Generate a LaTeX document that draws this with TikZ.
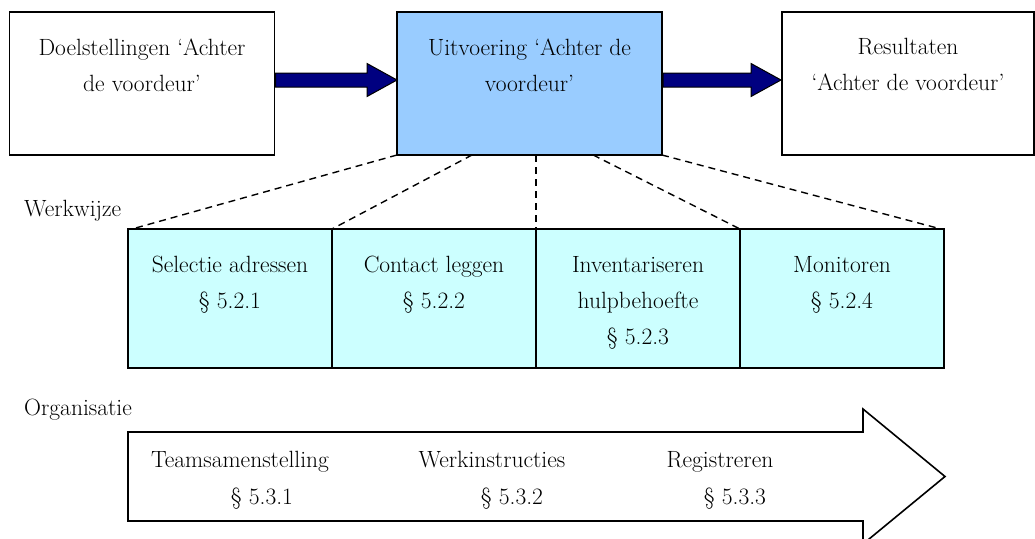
\documentclass[tikz,border=0pt]{standalone}
\usepackage{fontspec}
\usetikzlibrary{calc}
\definecolor{ublue}{HTML}{99CCFF}
\definecolor{lcyan}{HTML}{CCFFFF}
\definecolor{navyc}{HTML}{000080}
\newcommand{\dfont}{\fontsize{23.5}{36}\selectfont}
\newcommand{\lns}[1]{\begin{tabular}[t]{@{}c@{}}#1\end{tabular}}
\begin{document}
\begin{tikzpicture}[x=1pt,y=-1pt,
  box/.style={draw, line width=1.6pt, inner sep=0pt, outer sep=0pt, anchor=north west},
  topbox/.style={box, minimum width=265pt, minimum height=143pt},
  subbox/.style={box, fill=lcyan, minimum width=204pt, minimum height=139pt},
  txt/.style={font=\dfont, inner sep=0pt, anchor=base},
  lbl/.style={font=\dfont, inner sep=0pt, anchor=base west},
  link/.style={dash pattern=on 7pt off 5pt, line width=1.4pt},
  blockarrow/.style={draw=black, fill=navyc, line width=1pt, line join=miter},
  bigarrow/.style={draw=black, fill=white, line width=1.6pt, line join=miter},
]
\useasboundingbox (0,0) rectangle (1035,538);

% top boxes
\node[topbox] (d) at (9.5,12) {};
\node[topbox, fill=ublue] (u) at (397,12) {};
\node[box, minimum width=252pt, minimum height=143pt] (r) at (782,12) {};

\node[txt] (dt) at ($(d.north)+(0,43)$) {\lns{Doelstellingen ‘Achter\\de voordeur’}};
\node[txt] (ut) at ($(u.north)+(0,43)$) {\lns{Uitvoering ‘Achter de\\voordeur’}};
\node[txt] (rt) at ($(r.north)+(0,42)$) {\lns{Resultaten\\‘Achter de voordeur’}};

% block arrows
\coordinate (a1) at ($(d.east)+(0,-3.5)$);
\coordinate (a1t) at ($(u.west)+(0,-3.5)$);
\draw[blockarrow] ($(a1)+(1,-7)$) -- ($(a1t)+(-30,-7)$) -- ($(a1t)+(-30,-16.5)$) -- (a1t)
  -- ($(a1t)+(-30,16.5)$) -- ($(a1t)+(-30,7)$) -- ($(a1)+(1,7)$) -- cycle;
\coordinate (a2) at ($(u.east)+(0,-3.5)$);
\coordinate (a2t) at ($(r.west)+(-1,-3.5)$);
\draw[blockarrow] ($(a2)+(1,-7)$) -- ($(a2t)+(-30,-7)$) -- ($(a2t)+(-30,-16.5)$) -- (a2t)
  -- ($(a2t)+(-30,16.5)$) -- ($(a2t)+(-30,7)$) -- ($(a2)+(1,7)$) -- cycle;

% labels
\node[lbl] (ww) at (24,216) {Werkwijze};
\node[lbl] (org) at (24,415) {Organisatie};

% sub boxes
\node[subbox] (s1) at (128,229) {};
\node[subbox] (s2) at (s1.north east) {};
\node[subbox] (s3) at (s2.north east) {};
\node[subbox] (s4) at (s3.north east) {};

\node[txt] (s1t) at ($(s1.north)+(0,43)$) {\lns{Selectie adressen\\§ 5.2.1}};
\node[txt] (s2t) at ($(s2.north)+(0,43)$) {\lns{Contact leggen\\§ 5.2.2}};
\node[txt] (s3t) at ($(s3.north)+(0,43)$) {\lns{Inventariseren\\hulpbehoefte\\§ 5.2.3}};
\node[txt] (s4t) at ($(s4.north)+(0,43)$) {\lns{Monitoren\\§ 5.2.4}};

% dashed connectors
\draw[link] (u.south west) -- ($(s1.north west)+(4,0)$);
\draw[link] ($(u.south west)!0.283!(u.south east)$) -- (s2.north west);
\draw[link] (s3.north west |- u.south) -- (s3.north west);
\draw[link] ($(u.south west)!0.74!(u.south east)$) -- (s4.north west);
\draw[link] (u.south east) -- ($(s4.north east)+(-3,0)$);

% big arrow
\draw[bigarrow] (128,432) -- (863,432) -- (863,409) -- (945,476.5) -- (863,544)
  -- (863,521) -- (128,521) -- cycle;

\node[txt] (t1) at (240,467) {Teamsamenstelling};
\node[txt] (t1n) at (262,504) {§ 5.3.1};
\node[txt] (t2) at (492,467) {Werkinstructies};
\node[txt] (t2n) at (512,504) {§ 5.3.2};
\node[txt] (t3) at (720,467) {Registreren};
\node[txt] (t3n) at (735,504) {§ 5.3.3};
\end{tikzpicture}
\end{document}
